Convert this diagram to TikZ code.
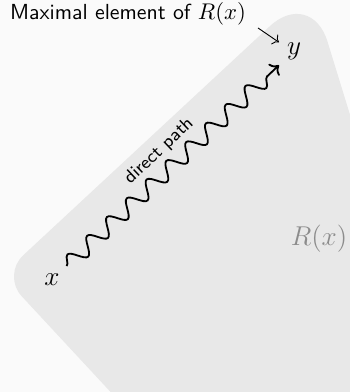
\documentclass[tikz,border=0pt]{standalone}
\usetikzlibrary{arrows.meta,positioning,decorations.pathmorphing}
\definecolor{bgwhite}{RGB}{250,250,250}
\definecolor{reachgray}{RGB}{232,232,232}
\definecolor{setgray}{RGB}{140,140,140}

\begin{document}
\begin{tikzpicture}[
  every node/.style={font=\sffamily},
  elem/.style={font=\large},
  wavy/.style={->,thick,decorate,
               decoration={snake,amplitude=3.5pt,segment length=12pt,post length=5pt}},
  pointer/.style={->},
]
  % Canvas
  \useasboundingbox (0,0) rectangle (5.418,6.068);
  \fill[bgwhite] (0,0) rectangle (5.418,6.068);
  \clip (0,0) rectangle (5.418,6.068);

  % Reachable set
  \fill[reachgray] (2.423,4.033) [rounded corners=0.867cm] -- (4.814,6.254)
    -- (7.043,-0.991) -- (2.632,-0.991) [rounded corners=0.449cm]
    -- (0.031,1.811) -- cycle;

  % Points
  \node[elem] (x) at (0.805,1.734) {$x$};
  \node[elem] (y) at (4.551,5.279) {$y$};
  \node[elem,text=setgray] (rx) at (4.938,2.368) {$R(x)$};

  % Label
  \node[font=\sffamily\fontsize{9.6pt}{11pt}\selectfont] (maxlbl) at (1.981,5.851)
    {Maximal element of $R(x)$};
  \coordinate (maxtail) at (3.994,5.635);
  \draw[pointer] (maxtail) -- (y.150);

  % Path
  \draw[wavy] (x) -- node[midway,sloped,above=1.5pt,font=\sffamily\footnotesize]
    {direct path} (y);
\end{tikzpicture}
\end{document}
